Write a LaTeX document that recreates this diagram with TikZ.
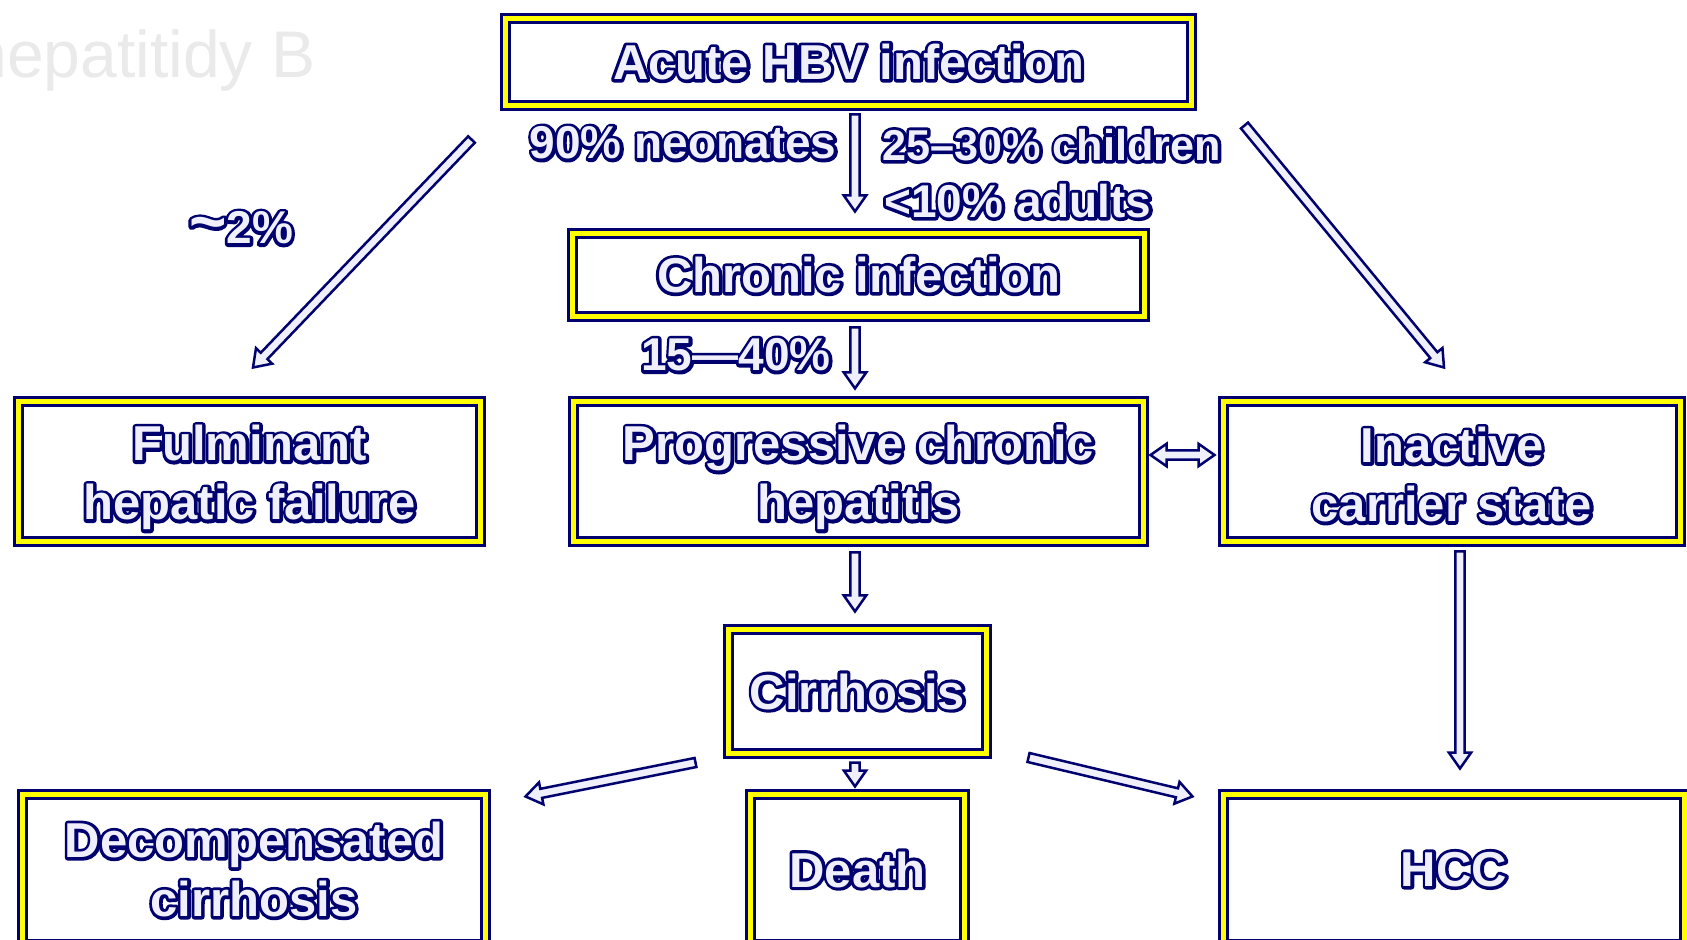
\documentclass[tikz,border=0pt]{standalone}
\usepackage{fontspec}
\setmainfont{Liberation Sans}
\usetikzlibrary{calc}
\definecolor{navy}{RGB}{0,0,110}
\definecolor{hyel}{RGB}{255,255,0}
\definecolor{wmark}{RGB}{234,234,234}
\definecolor{paleblue}{RGB}{240,240,252}
\newcommand\boxfont{\fontsize{24.5}{29.5}\selectfont\bfseries}
\newcommand\labfont{\fontsize{23}{27}\selectfont\bfseries}
\newcommand\hol[1]{\makebox[0pt][l]{\special{pdf:literal direct 1 Tr 3.2 w 1 j 0 0 0.431 RG}#1\special{pdf:literal direct 0 Tr 0 j 0.4 w}}#1}
\newcommand\barrowcore[3]{%
  \path #2; \pgfgetlastxy\bax\bay
  \path #3; \pgfgetlastxy\bbx\bby
  \pgfmathsetmacro\bang{atan2((\bby)-(\bay),(\bbx)-(\bax))}
  \pgfmathsetmacro\blen{veclen((\bbx)-(\bax),(\bby)-(\bay))}
  \pgfmathsetmacro\bneck{\blen-8}
  \begin{scope}[shift={(\bax,\bay)}, rotate=\bang]
    \ifnum#1=0
      \draw[arrowsty] (0pt,-2.3pt) -- (\bneck pt,-2.3pt) -- (\bneck pt,-5.6pt) -- (\blen pt,0pt) -- (\bneck pt,5.6pt) -- (\bneck pt,2.3pt) -- (0pt,2.3pt) -- cycle;
    \else
      \draw[arrowsty] (0pt,0pt) -- (8pt,-5.6pt) -- (8pt,-2.3pt) -- (\bneck pt,-2.3pt) -- (\bneck pt,-5.6pt) -- (\blen pt,0pt) -- (\bneck pt,5.6pt) -- (\bneck pt,2.3pt) -- (8pt,2.3pt) -- (8pt,5.6pt) -- cycle;
    \fi
  \end{scope}}
\newcommand\barrow[2]{\barrowcore{0}{#1}{#2}}
\newcommand\dbarrow[2]{\barrowcore{1}{#1}{#2}}
\newcommand\lowr{\rule{0pt}{24pt}}
\begin{document}
\begin{tikzpicture}[x=0.5pt,y=-0.5pt,
  hbox/.style={draw=navy, line width=1.5pt, double=hyel, double distance=2.5pt, fill=white, inner sep=0pt, align=center, text=paleblue, font=\boxfont},
  lab/.style={inner sep=0pt, text=paleblue, font=\labfont},
  arrowsty/.style={draw=navy, fill=paleblue, line width=1.25pt, line join=miter}]
\useasboundingbox (0,0) rectangle (1687,940);
\clip (0,0) rectangle (1687,940);
\fill[white] (0,0) rectangle (1687,940);
% watermark
\node[anchor=base west, text=wmark, font=\fontsize{33}{33}\selectfont, inner sep=0pt] (wmk) at (-30,78) {hepatitidy B};
% boxes
\node[hbox, minimum width=343pt, minimum height=43.5pt] (acute) at (848.5,62) {\hol{Acute HBV infection}};
\node[hbox, minimum width=286pt, minimum height=41.5pt] (chronic) at (858.5,275) {\hol{Chronic infection}};
\node[hbox, minimum width=231pt, minimum height=70pt] (fulminant) at (249.5,471.5) {\lowr\hol{Fulminant}\\\hol{hepatic failure}};
\node[hbox, minimum width=285pt, minimum height=70pt] (progressive) at (858.5,471.5) {\lowr\hol{Progressive chronic}\\\hol{hepatitis}};
\node[hbox, minimum width=228.5pt, minimum height=70pt] (inactive) at (1452,471.5) {\rule{0pt}{21pt}\hol{Inactive}\\\hol{carrier state}};
\node[hbox, minimum width=129pt, minimum height=62pt] (cirrhosis) at (857.5,691.5) {\hol{Cirrhosis}};
\node[hbox, minimum width=231.5pt, minimum height=75pt] (decomp) at (254,869.5) {\hol{Decompensated}\\\hol{cirrhosis}};
\node[hbox, minimum width=107pt, minimum height=75pt] (death) at (857.5,869.5) {\hol{Death}};
\node[hbox, minimum width=230.5pt, minimum height=75pt] (hcc) at (1454,869.5) {\hol{HCC}};
% labels
\node[lab, anchor=east] (l90) at (837,143) {\hol{90\% neonates}};
\node[lab, anchor=west, font=\fontsize{21.6}{26}\selectfont\bfseries] (l25) at (882,145) {\hol{25–30\% children}};
\node[lab, anchor=west] (l10) at (884,201) {\hol{<10\% adults}};
\node[lab, anchor=east] (l15) at (831,355) {\hol{15—40\%}};
\node[lab] (l2) at (241,228) {\hol{{\fontsize{32}{32}\selectfont\textasciitilde}2\%}};
% arrows
\barrow{($(acute.south)+(6.5,7.5)$)}{($(chronic.north)+(-3.5,-20.5)$)}
\barrow{($(chronic.south)+(-3.5,9.5)$)}{($(progressive.north)+(-3.5,-11.5)$)}
\barrow{($(progressive.south)+(-3.5,9.5)$)}{($(cirrhosis.north)+(-2.5,-16.5)$)}
\barrow{($(cirrhosis.south)+(-2.5,7.5)$)}{($(death.north)+(-2.5,-6.5)$)}
\dbarrow{($(progressive.east)+(5.5,-16.5)$)}{($(inactive.west)+(-7.5,-16.5)$)}
\barrow{($(acute.south west)+(-32.5,32.5)$)}{($(fulminant.north)+(3.5,-32.5)$)}
\barrow{($(acute.south east)+(51.5,18.5)$)}{($(inactive.north)+(-8,-32.5)$)}
\barrow{($(inactive.south)+(8,8.5)$)}{($(hcc.north)+(6,-24.5)$)}
\barrow{($(cirrhosis.south west)+(-31.5,7.5)$)}{($(decomp.north east)+(38.5,3.5)$)}
\barrow{($(cirrhosis.south east)+(40.5,2.5)$)}{($(hcc.north west)+(-29.5,3.5)$)}
\end{tikzpicture}
\end{document}
